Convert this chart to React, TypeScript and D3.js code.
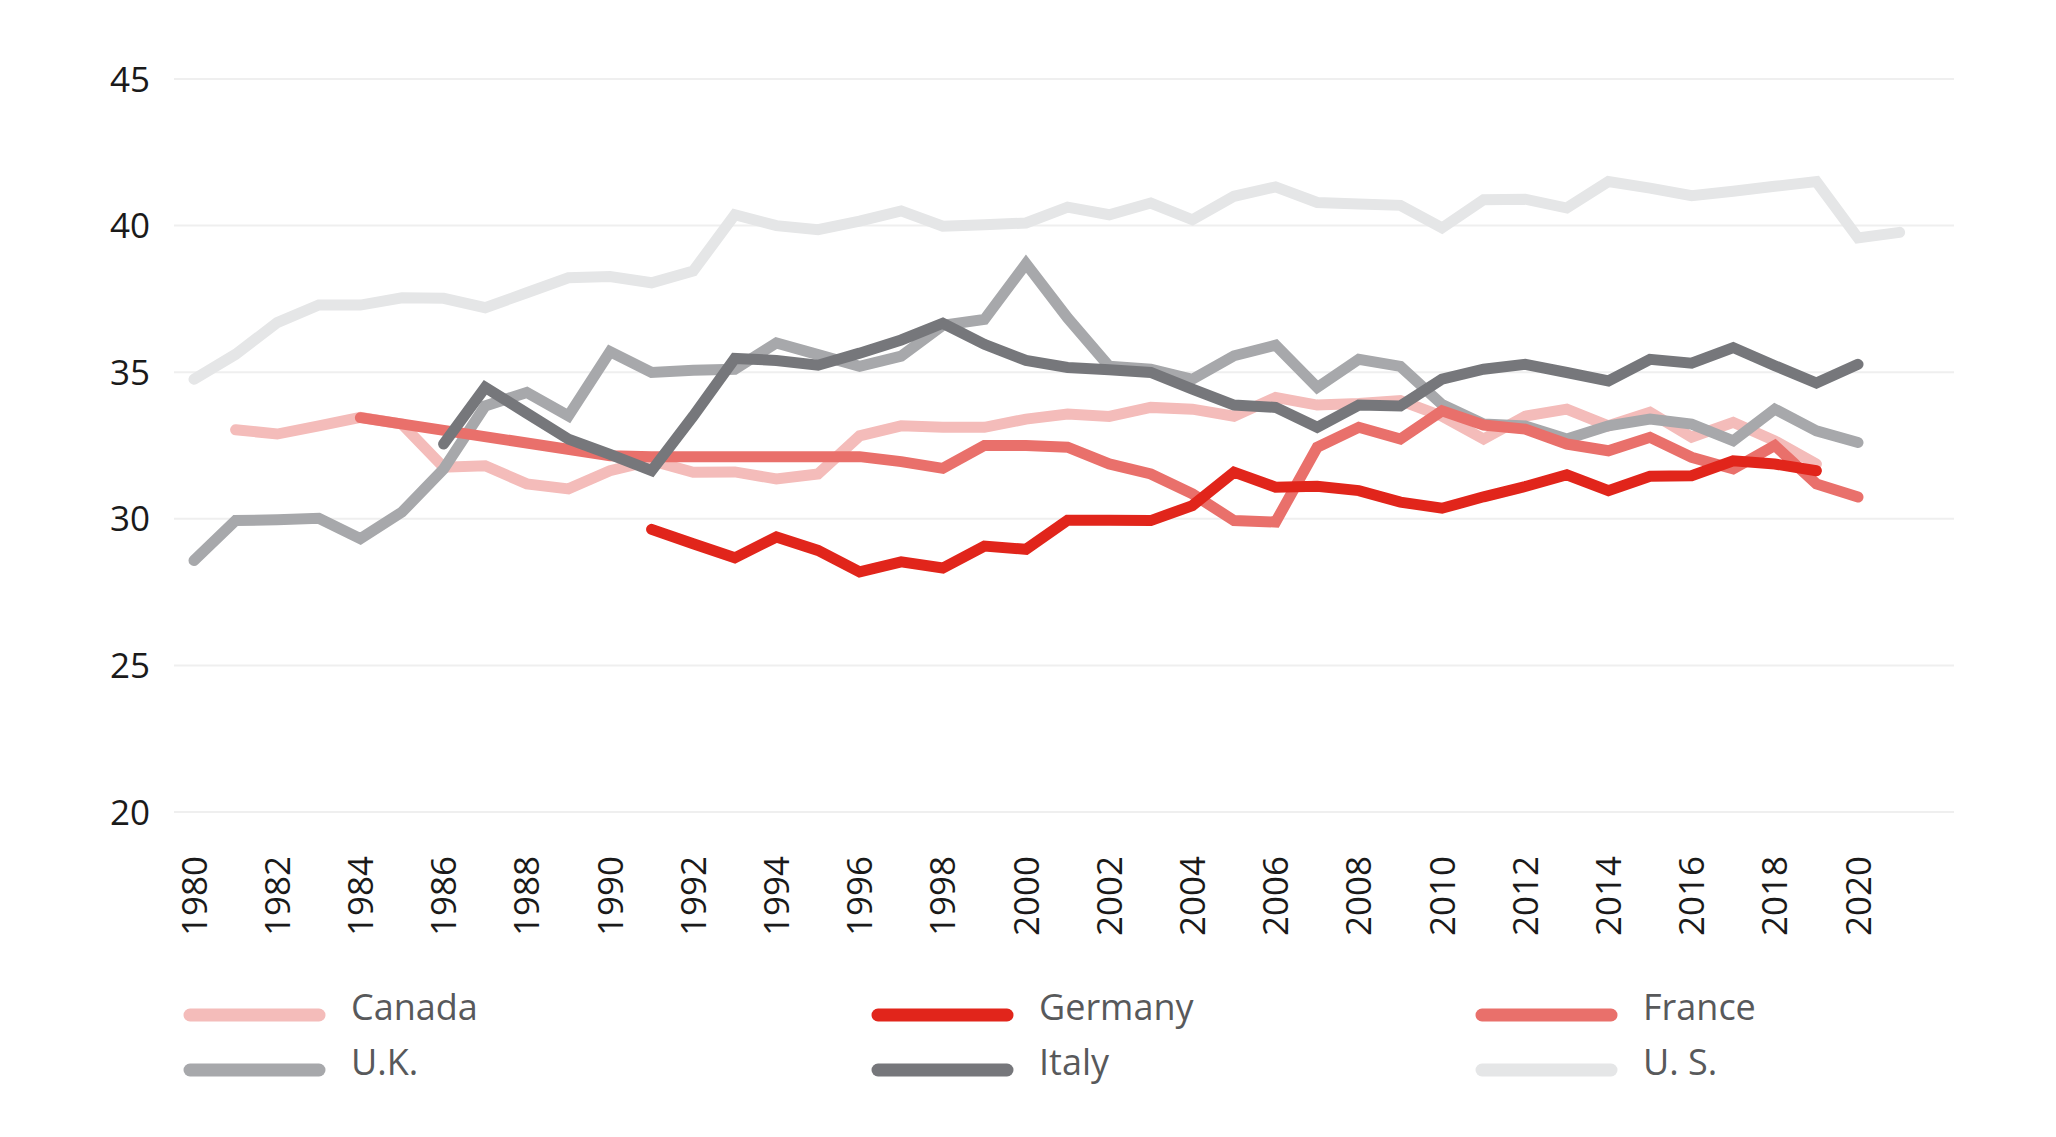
import * as d3 from 'd3';

const startYear = 1980;
const endYear = 2021;
const yTicks = [20, 25, 30, 35, 40, 45];
const xTickYears = d3.range(1980, 2021, 2);

// values per year, first value belongs to the given start year
const usStart = 1980;
const usValues = [
	34.76, 35.61, 36.69, 37.29, 37.29, 37.54, 37.52, 37.2, 37.71, 38.22,
	38.26, 38.05, 38.45, 40.37, 40.0, 39.86, 40.15, 40.5, 39.98, 40.03,
	40.09, 40.63, 40.37, 40.77, 40.2, 41.0, 41.32, 40.79, 40.74, 40.69,
	39.92, 40.88, 40.9, 40.6, 41.5, 41.28, 41.02, 41.17, 41.34, 41.5,
	39.58, 39.77,
];
const ukStart = 1980;
const ukValues = [
	28.58, 29.94, 29.97, 30.02, 29.32, 30.23, 31.7, 33.85, 34.31, 33.51,
	35.7, 34.99, 35.07, 35.1, 36.0, 35.6, 35.2, 35.55, 36.6, 36.8,
	38.7, 36.85, 35.2, 35.1, 34.76, 35.56, 35.92, 34.48, 35.44, 35.2,
	33.9, 33.23, 33.17, 32.72, 33.17, 33.4, 33.23, 32.66, 33.74, 33.0,
	32.6,
];
const canadaStart = 1981;
const canadaValues = [
	33.04, 32.89, 33.17, 33.46, 33.23, 31.76, 31.81, 31.19, 31.02, 31.64,
	31.98, 31.59, 31.6, 31.36, 31.53, 32.83, 33.17, 33.12, 33.12, 33.4,
	33.57, 33.49, 33.8, 33.74, 33.5, 34.14, 33.88, 33.93, 34.03, 33.5,
	32.72, 33.5, 33.74, 33.17, 33.63, 32.78, 33.29, 32.66, 31.87,
];
const franceStart = 1984;
const franceValues: (number | null)[] = [
	33.45, null, null, null, null, null,
	32.15, 32.12, 32.12, 32.12, 32.12, 32.12, 32.12, 31.95, 31.72, 32.5,
	32.5, 32.44, 31.87, 31.53, 30.85, 29.94, 29.89, 32.44, 33.12, 32.72,
	33.68, 33.2, 33.06, 32.55, 32.32, 32.78, 32.1, 31.7, 32.5, 31.19,
	30.74,
];
const italyStart = 1986;
const italyValues = [
	32.55, 34.48, 33.6, 32.72,
	32.2, 31.64, 33.5, 35.47, 35.4, 35.24, 35.65, 36.1, 36.67, 35.95,
	35.4, 35.16, 35.08, 34.99, 34.42, 33.88, 33.8, 33.12, 33.88, 33.85,
	34.76, 35.1, 35.27, 34.99, 34.7, 35.44, 35.31, 35.84, 35.22, 34.63,
	35.27,
];
const germanyStart = 1991;
const germanyValues = [
	29.64, 29.15, 28.67, 29.38, 28.92, 28.19, 28.53, 28.32, 29.07,
	28.96, 29.95, 29.95, 29.94, 30.45, 31.59, 31.08, 31.11, 30.96, 30.57,
	30.36, 30.75, 31.1, 31.5, 30.96, 31.45, 31.47, 31.98, 31.87, 31.64,
];

type Series = { name: string; color: string; start: number; values: (number | null)[] };

// drawing order (back to front)
const series: Series[] = [
	{ name: 'U. S.', color: '#e5e6e7', start: usStart, values: usValues },
	{ name: 'Canada', color: '#f4bcba', start: canadaStart, values: canadaValues },
	{ name: 'U.K.', color: '#a7a8ab', start: ukStart, values: ukValues },
	{ name: 'France', color: '#e9706b', start: franceStart, values: franceValues },
	{ name: 'Italy', color: '#76777b', start: italyStart, values: italyValues },
	{ name: 'Germany', color: '#e1251b', start: germanyStart, values: germanyValues },
];

const legendOrder = [
	['Canada', 'Germany', 'France'],
	['U.K.', 'Italy', 'U. S.'],
];

const WIDTH = 2056;
const HEIGHT = 1137;
const FONT = '"Open Sans", "Noto Sans", sans-serif';

export default function App() {
	const x = d3.scaleLinear().domain([startYear, 2020]).range([194, 1858]);
	const y = d3.scaleLinear().domain([20, 45]).range([812, 79]);

	const line = d3
		.line<{ year: number; value: number }>()
		.x((d) => x(d.year))
		.y((d) => y(d.value));

	const pointsOf = (s: Series) =>
		s.values
			.map((v, i) => ({ year: s.start + i, value: v }))
			.filter((d) => d.value !== null && d.year <= endYear) as { year: number; value: number }[];

	const legendX = [184, 872, 1476];
	const legendY = [1015, 1070];
	const colorOf = (name: string) => series.find((s) => s.name === name)!.color;

	return (
		<svg
			width={WIDTH}
			height={HEIGHT}
			style={{ position: 'absolute', left: 0, top: 0, background: '#fff' }}
			fontFamily={FONT}
		>
			{yTicks.map((t) => (
				<g key={t}>
					<line x1={174} x2={1954} y1={y(t)} y2={y(t)} stroke="#efefef" strokeWidth={2} />
					<text x={150} y={y(t)} dy="0.36em" textAnchor="end" fontSize={35} fill="#1a1a1a">
						{t}
					</text>
				</g>
			))}

			{xTickYears.map((yr) => (
				<text
					key={yr}
					transform={`translate(${x(yr)},856) rotate(-90)`}
					dy="0.36em"
					textAnchor="end"
					fontSize={35}
					fill="#1a1a1a"
				>
					{yr}
				</text>
			))}

			{series.map((s) => (
				<path
					key={s.name}
					d={line(pointsOf(s)) ?? ''}
					fill="none"
					stroke={s.color}
					strokeWidth={11}
					strokeLinecap="round"
					strokeLinejoin="miter"
				/>
			))}

			{legendOrder.map((row, ri) =>
				row.map((name, ci) => (
					<g key={name} transform={`translate(${legendX[ci]},${legendY[ri]})`}>
						<line x1={6} x2={135} y1={0} y2={0} stroke={colorOf(name)} strokeWidth={13} strokeLinecap="round" />
						<text x={167} y={5} fontSize={36} fill="#58595b">
							{name}
						</text>
					</g>
				))
			)}
		</svg>
	);
}
